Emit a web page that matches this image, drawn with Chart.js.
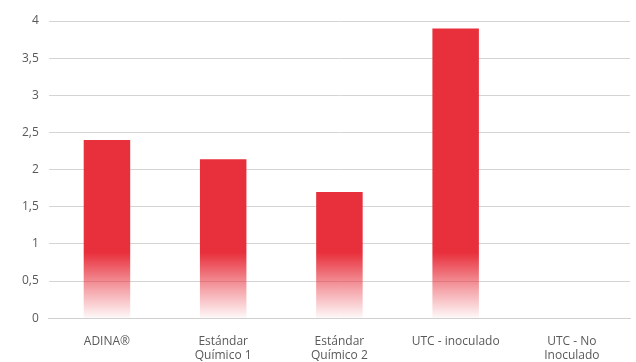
<!DOCTYPE html>
<html>
<head>
<meta charset="utf-8">
<script src="https://cdn.jsdelivr.net/npm/chart.js@4"></script>
<style>
  body { margin: 0; background: #fff; }
  #wrap { width: 636px; height: 362px; }
</style>
</head>
<body>
<div id="wrap"><canvas id="chart"></canvas></div>
<script>
// data
const categories = ['ADINA®', ['Estándar', 'Químico 1'], ['Estándar', 'Químico 2'], 'UTC - inoculado', ['UTC - No', 'Inoculado']];
const values = [2.4, 2.14, 1.7, 3.9, 0];
const yTicks = [0, 0.5, 1, 1.5, 2, 2.5, 3, 3.5, 4];

const ctx = document.getElementById('chart').getContext('2d');

// gradient red -> white toward the bottom
function barFill(context) {
    const area = context.chart.chartArea;
    if (!area) return '#e8303c';
    const g = context.chart.ctx.createLinearGradient(0, area.bottom, 0, area.top);
    g.addColorStop(0, 'rgba(232,48,60,0.03)');
    g.addColorStop(0.1, 'rgba(232,48,60,0.45)');
    g.addColorStop(0.22, 'rgba(232,48,60,1)');
    g.addColorStop(1, 'rgba(232,48,60,1)');
    return g;
}

new Chart(ctx, {
    type: 'bar',
    data: {
        labels: categories,
        datasets: [{
            data: values,
            backgroundColor: barFill,
            borderWidth: 0,
            barPercentage: 0.5,
            categoryPercentage: 0.8
        }]
    },
    options: {
        responsive: true,
        maintainAspectRatio: false,
        animation: false,
        layout: { padding: { left: 12, right: 6, top: 21, bottom: -9 } },
        plugins: {
            legend: { display: false },
            tooltip: { enabled: false }
        },
        scales: {
            x: {
                grid: { display: false },
                border: { color: '#d0d0d0' },
                ticks: {
                    color: '#595959',
                    font: { family: 'Open Sans', size: 12 },
                    maxRotation: 0,
                    padding: 8
                }
            },
            y: {
                min: 0,
                max: 4,
                afterBuildTicks: axis => { axis.ticks = yTicks.map(v => ({ value: v })); },
                grid: { color: '#d4d4d4', drawTicks: false },
                border: { display: false },
                ticks: {
                    color: '#595959',
                    font: { family: 'Open Sans', size: 12 },
                    padding: 10,
                    callback: v => String(v).replace('.', ',')
                }
            }
        }
    }
});
</script>
</body>
</html>
